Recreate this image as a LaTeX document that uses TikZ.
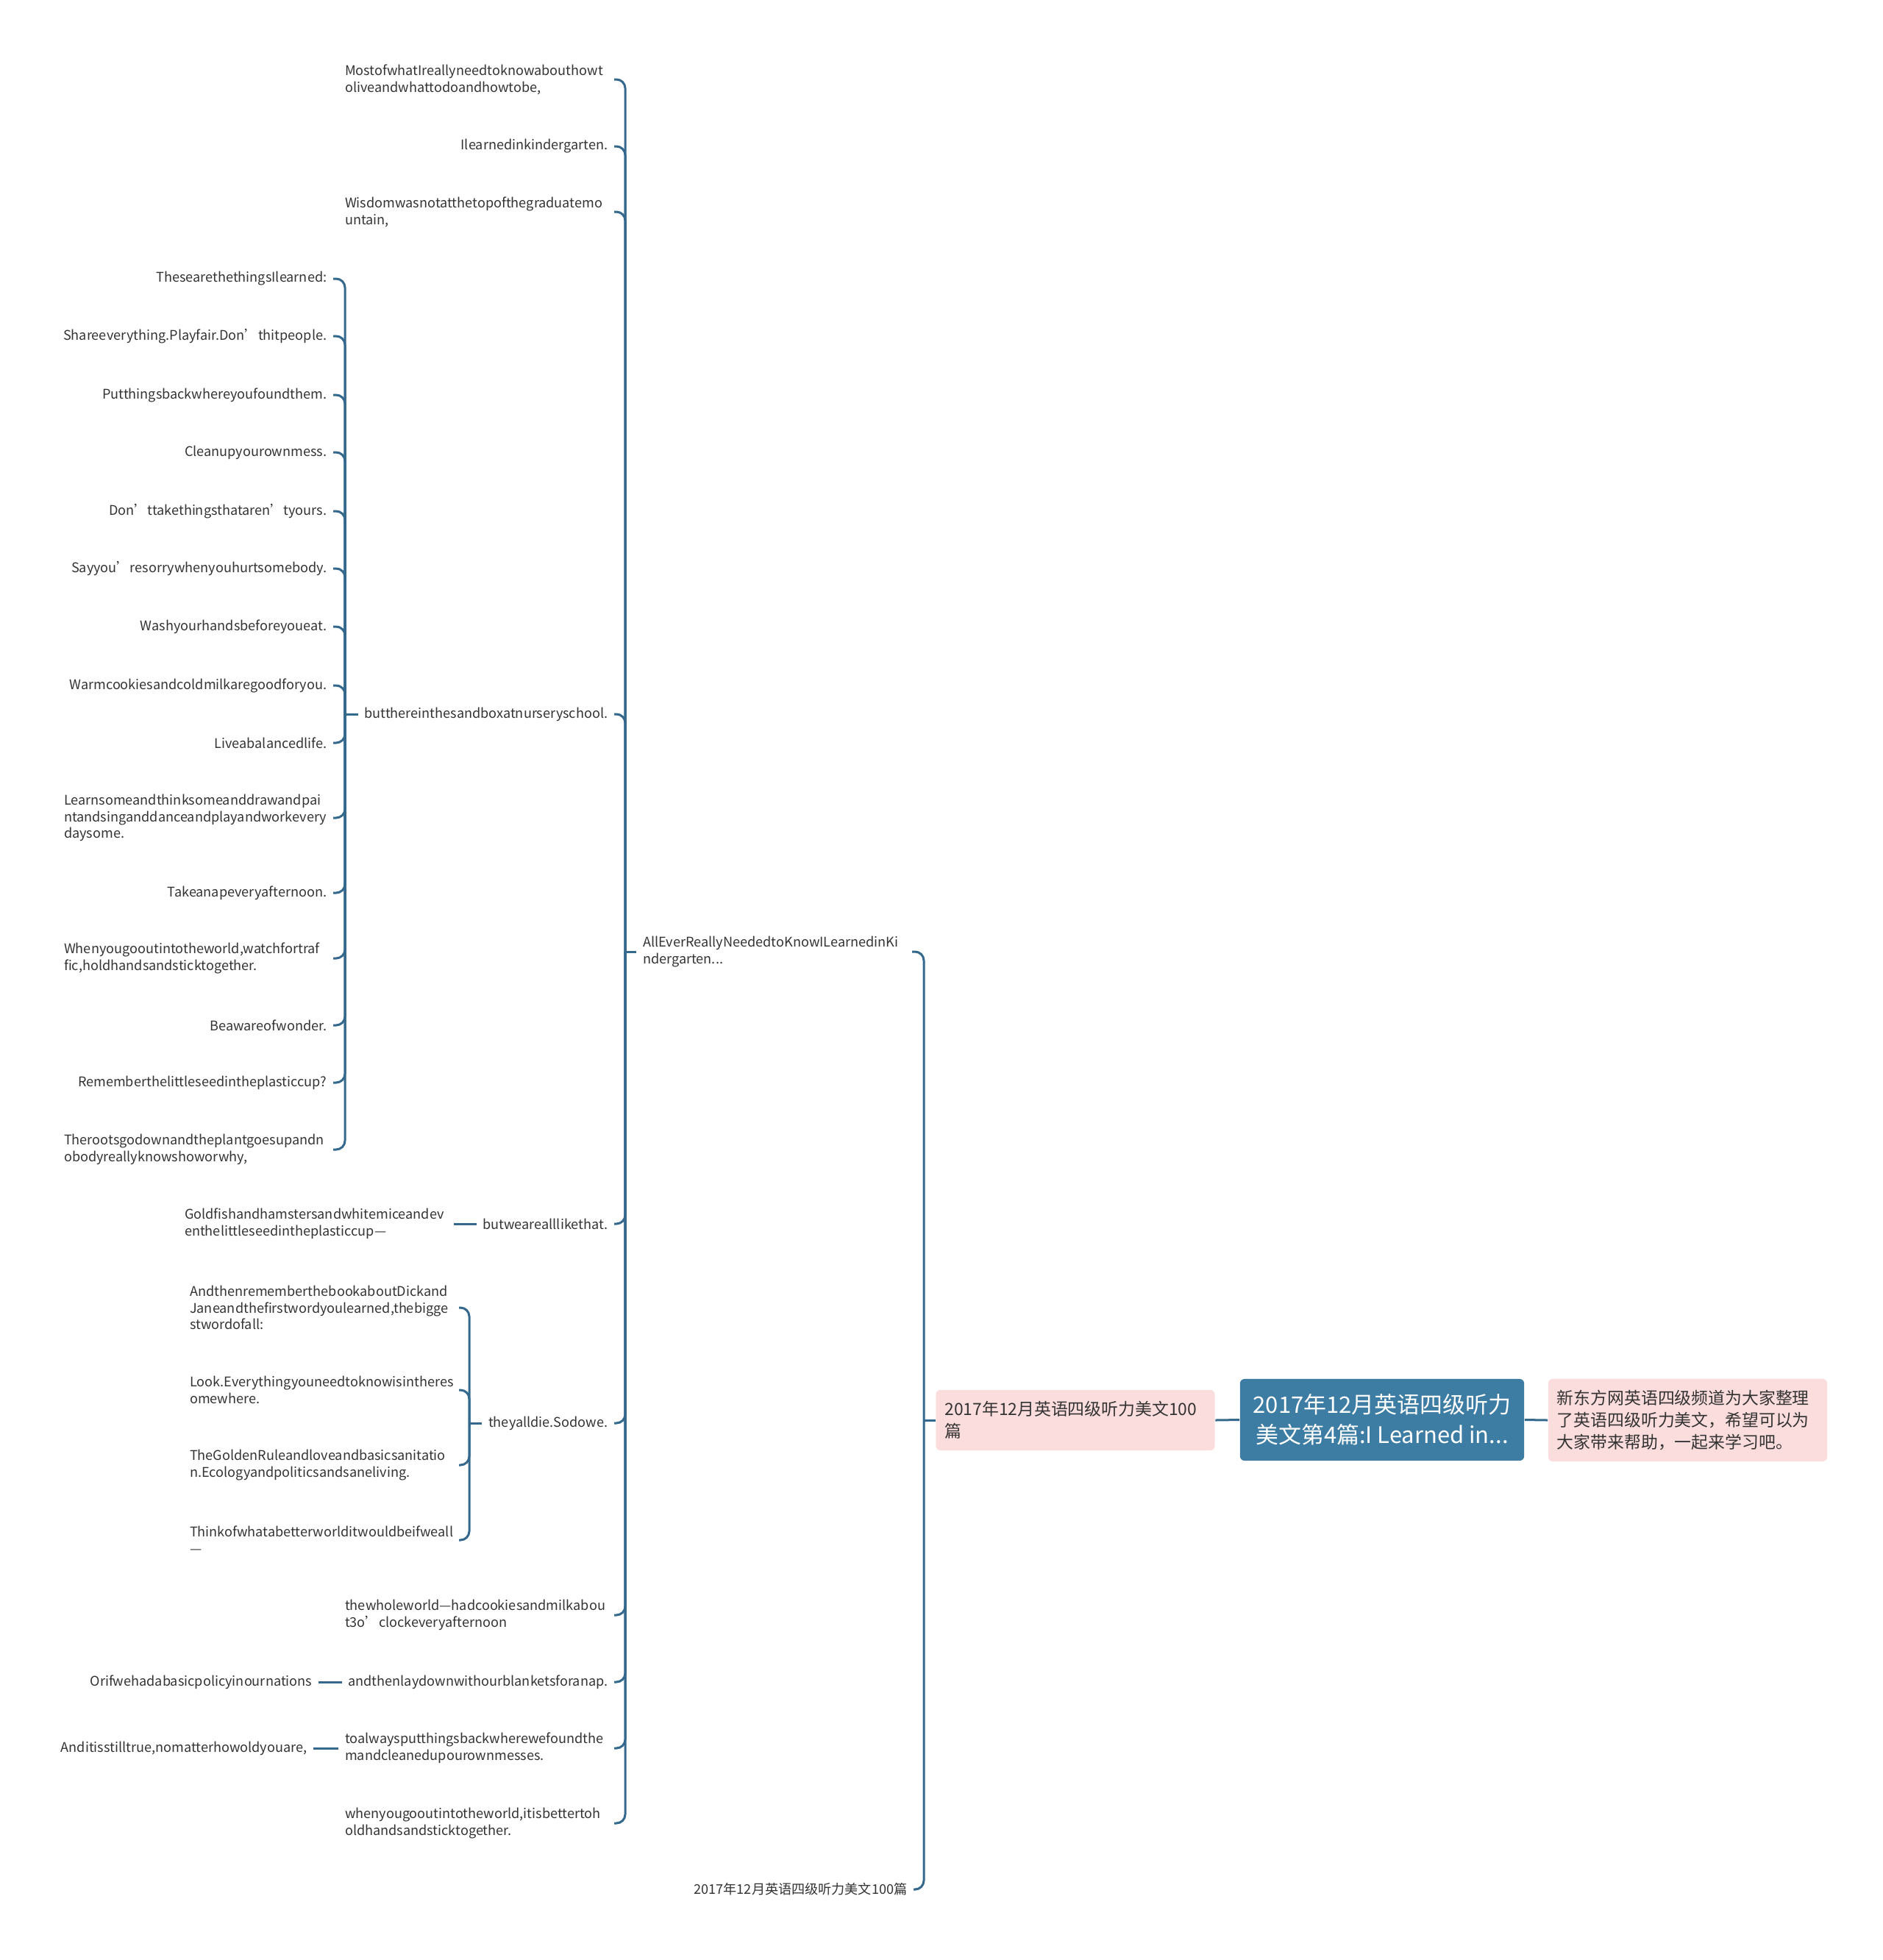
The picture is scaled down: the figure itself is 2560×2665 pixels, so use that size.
\documentclass[tikz,border=0pt]{standalone}
\usepackage{fontspec}
\setmainfont{Noto Sans CJK SC}
\usepackage{xcolor}
\usetikzlibrary{positioning, calc}

\definecolor{rootblue}{RGB}{62,125,163}
\definecolor{linkblue}{RGB}{52,104,140}
\definecolor{notepink}{RGB}{252,221,221}
\definecolor{inkgray}{RGB}{51,51,51}
\hyphenpenalty=10000
\exhyphenpenalty=10000

\begin{document}
\begin{tikzpicture}[
    x=0.01cm, y=-0.01cm,
    every node/.style={font=\fontsize{5.15}{6.5}\selectfont, text=inkgray},
    leaf/.style={anchor=east, inner xsep=0.08cm, inner ysep=0pt, align=right},
    para/.style={anchor=east, inner xsep=0.08cm, inner ysep=0pt, text width=3.57cm, align=left},
    rootbox/.style={rectangle, rounded corners=0.06cm, fill=rootblue, text=white, align=center, minimum width=3.86cm, minimum height=1.11cm, font=\fontsize{8.8}{11.7}\selectfont},
    notebox/.style={rectangle, rounded corners=0.06cm, fill=notepink, align=left, inner xsep=0.12cm, text width=3.55cm, font=\fontsize{6.5}{8.5}\selectfont},
    link/.style={draw=linkblue, line width=0.03cm, rounded corners=0.12cm}
]
    \useasboundingbox (0,0) rectangle (2560,2665);

    % Centre topic and its two notes
    \node[rootbox] (root) at (1879,1930.5) {2017年12月英语四级听力\\美文第4篇:I Learned in...};
    \node[notebox, minimum height=1.12cm] (intro) at (2294.5,1931) {新东方网英语四级频道为大家整理\\了英语四级听力美文，希望可以为\\大家带来帮助，一起来学习吧。};
    \node[notebox, minimum height=0.82cm] (series) at (1462,1931) {2017年12月英语四级听力美文100\\篇};
    \draw[link] (series.east) -- (root.west);
    \draw[link] (root.east) -- (intro.west);

    % First level
    \node[para] (allever) at (1240,1294) {AllEverReallyNeededtoKnowILearnedinKi\\ndergarten...};
    \node[leaf] (hundred) at (1242,2569) {2017年12月英语四级听力美文100篇};
    \coordinate (forkA) at (1256,1931);
    \draw[link] (series.west) -- (forkA);
    \foreach \c in {allever, hundred}
        \draw[link] (forkA) |- (\c.east);

    % Lines of the essay
    \node[para] (most) at (835,108) {MostofwhatIreallyneedtoknowabouthowt\\oliveandwhattodoandhowtobe,};
    \node[leaf] (kinder) at (835,199) {Ilearnedinkindergarten.};
    \node[para] (wisdom) at (835,288) {Wisdomwasnotatthetopofthegraduatemo\\untain,};
    \node[leaf] (sandbox) at (835,971) {butthereinthesandboxatnurseryschool.};
    \node[leaf] (alllike) at (835,1664) {butwearealllikethat.};
    \node[leaf] (alldie) at (835,1935) {theyalldie.Sodowe.};
    \node[para] (milk) at (835,2196) {thewholeworld—hadcookiesandmilkabou\\t3o’clockeveryafternoon};
    \node[leaf] (blankets) at (835,2287) {andthenlaydownwithourblanketsforanap.};
    \node[para] (messes) at (835,2377) {toalwaysputthingsbackwherewefoundthe\\mandcleanedupourownmesses.};
    \node[para] (together) at (835,2479) {whenyougooutintotheworld,itisbettertoh\\oldhandsandsticktogether.};
    \coordinate (forkB) at (850,1294);
    \draw[link] (allever.west) -- (forkB);
    \foreach \c in {most, kinder, wisdom, sandbox, alllike, alldie, milk, blankets, messes, together}
        \draw[link] (forkB) |- (\c.east);

    % Things learned in the sandbox
    \node[leaf] (things) at (453,379) {ThesearethethingsIlearned:};
    \node[leaf] (share) at (453,457) {Shareeverything.Playfair.Don’thitpeople.};
    \node[leaf] (putback) at (453,537) {Putthingsbackwhereyoufoundthem.};
    \node[leaf] (mess) at (453,615) {Cleanupyourownmess.};
    \node[leaf] (notyours) at (453,695) {Don’ttakethingsthataren’tyours.};
    \node[leaf] (sorry) at (453,773) {Sayyou’resorrywhenyouhurtsomebody.};
    \node[leaf] (wash) at (453,852) {Washyourhandsbeforeyoueat.};
    \node[leaf] (cookies) at (453,932) {Warmcookiesandcoldmilkaregoodforyou.};
    \node[leaf] (balanced) at (453,1010) {Liveabalancedlife.};
    \node[para] (learn) at (453,1112) {Learnsomeandthinksomeanddrawandpai\\ntandsinganddanceandplayandworkevery\\daysome.};
    \node[leaf] (napdaily) at (453,1214) {Takeanapeveryafternoon.};
    \node[para] (traffic) at (453,1303) {Whenyougooutintotheworld,watchfortraf\\fic,holdhandsandsticktogether.};
    \node[leaf] (wonder) at (453,1394) {Beawareofwonder.};
    \node[leaf] (seed) at (453,1472) {Rememberthelittleseedintheplasticcup?};
    \node[para] (roots) at (453,1563) {Therootsgodownandtheplantgoesupandn\\obodyreallyknowshoworwhy,};
    \coordinate (forkC) at (469,971);
    \draw[link] (sandbox.west) -- (forkC);
    \foreach \c in {things, share, putback, mess, notyours, sorry, wash, cookies, balanced, learn, napdaily, traffic, wonder, seed, roots}
        \draw[link] (forkC) |- (\c.east);

    % They all die
    \node[para] (dick) at (624,1778) {AndthenrememberthebookaboutDickand\\Janeandthefirstwordyoulearned,thebigge\\stwordofall:};
    \node[para] (look) at (624,1890) {Look.Everythingyouneedtoknowisintheres\\omewhere.};
    \node[para] (golden) at (624,1992) {TheGoldenRuleandloveandbasicsanitatio\\n.Ecologyandpoliticsandsaneliving.};
    \node[para] (think) at (624,2094) {Thinkofwhatabetterworlditwouldbeifweall\\—};
    \coordinate (forkD) at (638,1935);
    \draw[link] (alldie.west) -- (forkD);
    \foreach \c in {dick, look, golden, think}
        \draw[link] (forkD) |- (\c.east);

    % Single children
    \node[para] (goldfish) at (617,1664) {Goldfishandhamstersandwhitemiceandev\\enthelittleseedintheplasticcup—};
    \draw[link] (goldfish.east) -- (alllike.west);
    \node[leaf] (policy) at (433,2287) {Orifwehadabasicpolicyinournations};
    \draw[link] (policy.east) -- (blankets.west);
    \node[leaf] (stilltrue) at (426,2377) {Anditisstilltrue,nomatterhowoldyouare,};
    \draw[link] (stilltrue.east) -- (messes.west);
\end{tikzpicture}
\end{document}
